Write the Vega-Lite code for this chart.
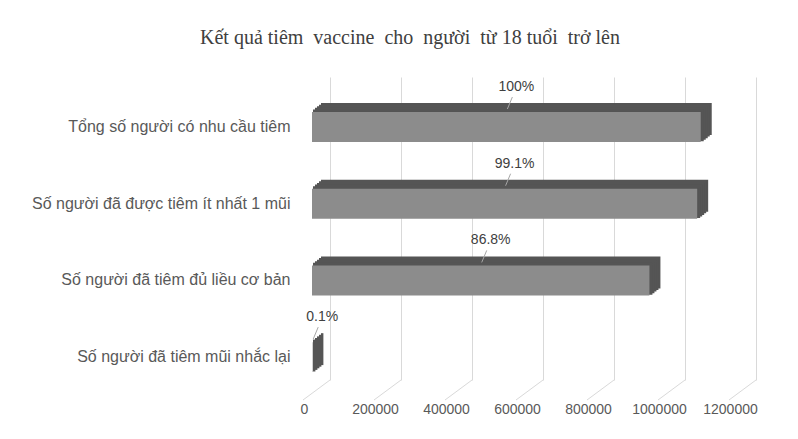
{
  "$schema": "https://vega.github.io/schema/vega-lite/v6.json",
  "width": 426,
  "height": 303,
  "autosize": {"type": "none"},
  "padding": {"left": 330, "top": 77, "right": 42, "bottom": 59},
  "background": "white",
  "title": {
    "text": "Kết quả tiêm \u00a0vaccine \u00a0cho \u00a0người \u00a0từ 18 tuổi \u00a0trở lên",
    "anchor": "middle",
    "frame": "group",
    "dx": -133,
    "offset": 29,
    "font": "Liberation Serif",
    "fontSize": 20,
    "fontWeight": "normal",
    "color": "#404040"
  },
  "config": {"view": {"stroke": null}, "font": "Liberation Sans"},
  "datasets": {
    "bars": [
      {"category": "Tổng số người có nhu cầu tiêm", "value": 1095000, "pct": "100%"},
      {"category": "Số người đã được tiêm ít nhất 1 mũi", "value": 1085000, "pct": "99.1%"},
      {"category": "Số người đã tiêm đủ liều cơ bản", "value": 950500, "pct": "86.8%"},
      {"category": "Số người đã tiêm mũi nhắc lại", "value": 1100, "pct": "0.1%"}
    ],
    "ticks": [
      {"t": 0}, {"t": 200000}, {"t": 400000}, {"t": 600000},
      {"t": 800000}, {"t": 1000000}, {"t": 1200000}
    ]
  },
  "data": {"name": "bars"},
  "layer": [
    {
      "layer": [
        {
          "data": {"name": "ticks"},
          "mark": {"type": "rule", "color": "#d9d9d9", "strokeWidth": 1, "x2Offset": -27, "y2Offset": 20},
          "encoding": {
            "x": {"field": "t", "type": "quantitative", "scale": {"domain": [0, 1200000], "nice": false}},
            "x2": {"field": "t"},
            "y": {"value": "height"},
            "y2": {"value": "height"}
          }
        },
        {
          "mark": {"type": "bar", "color": "#555555", "stroke": "#555555", "strokeWidth": 2, "xOffset": -8, "x2Offset": -8, "yOffset": -8},
          "encoding": {
            "x": {"field": "value", "type": "quantitative"},
            "y": {"field": "category", "type": "nominal", "sort": null}
          }
        },
        {
          "mark": {"type": "bar", "color": "#555555", "stroke": "#555555", "strokeWidth": 2, "xOffset": -10, "x2Offset": -10, "yOffset": -6.4},
          "encoding": {
            "x": {"field": "value", "type": "quantitative"},
            "y": {"field": "category", "type": "nominal", "sort": null}
          }
        },
        {
          "mark": {"type": "bar", "color": "#555555", "stroke": "#555555", "strokeWidth": 2, "xOffset": -12, "x2Offset": -12, "yOffset": -4.8},
          "encoding": {
            "x": {"field": "value", "type": "quantitative"},
            "y": {"field": "category", "type": "nominal", "sort": null}
          }
        },
        {
          "mark": {"type": "bar", "color": "#555555", "stroke": "#555555", "strokeWidth": 2, "xOffset": -14, "x2Offset": -14, "yOffset": -3.2},
          "encoding": {
            "x": {"field": "value", "type": "quantitative"},
            "y": {"field": "category", "type": "nominal", "sort": null}
          }
        },
        {
          "mark": {"type": "bar", "color": "#555555", "stroke": "#555555", "strokeWidth": 2, "xOffset": -16, "x2Offset": -16, "yOffset": -1.6},
          "encoding": {
            "x": {"field": "value", "type": "quantitative"},
            "y": {"field": "category", "type": "nominal", "sort": null}
          }
        },
        {
          "mark": {"type": "bar", "color": "#8c8c8c", "xOffset": -18, "x2Offset": -18},
          "encoding": {
            "x": {
              "field": "value",
              "type": "quantitative",
              "axis": {
                "values": [0, 200000, 400000, 600000, 800000, 1000000, 1200000],
                "format": "d",
                "grid": true,
                "gridColor": "#d9d9d9",
                "domain": false,
                "ticks": false,
                "labelOffset": -26,
                "labelFlush": false,
                "labelOverlap": false,
                "labelPadding": 22,
                "labelFontSize": 14,
                "labelColor": "#595959",
                "labelFont": "Liberation Sans",
                "title": null
              }
            },
            "y": {
              "field": "category",
              "type": "nominal",
              "sort": null,
              "scale": {"paddingInner": 0.61, "paddingOuter": 0.28, "align": 0.816},
              "axis": {
                "domain": false,
                "ticks": false,
                "grid": false,
                "labelPadding": 40,
                "labelFontSize": 16,
                "labelColor": "#595959",
                "labelFont": "Liberation Sans",
                "labelLimit": 400,
                "title": null
              }
            }
          }
        }
      ]
    },
    {
      "layer": [
        {
          "mark": {"type": "rule", "color": "#a6a6a6", "strokeWidth": 1, "xOffset": -17, "x2Offset": -12, "yOffset": -18, "y2Offset": -30},
          "encoding": {
            "x": {"field": "value", "type": "quantitative", "scale": {"domain": [0, 2400000], "nice": false}, "axis": null},
            "x2": {"field": "value"},
            "y": {"field": "category", "type": "nominal", "sort": null},
            "y2": {"field": "category"}
          }
        },
        {
          "mark": {"type": "text", "font": "Liberation Sans", "fontSize": 14, "color": "#404040", "baseline": "middle", "align": "center", "dx": -8, "dy": -40},
          "encoding": {
            "x": {"field": "value", "type": "quantitative", "scale": {"domain": [0, 2400000], "nice": false}, "axis": null},
            "y": {"field": "category", "type": "nominal", "sort": null},
            "text": {"field": "pct"}
          }
        }
      ]
    }
  ],
  "resolve": {"scale": {"x": "independent"}}
}
